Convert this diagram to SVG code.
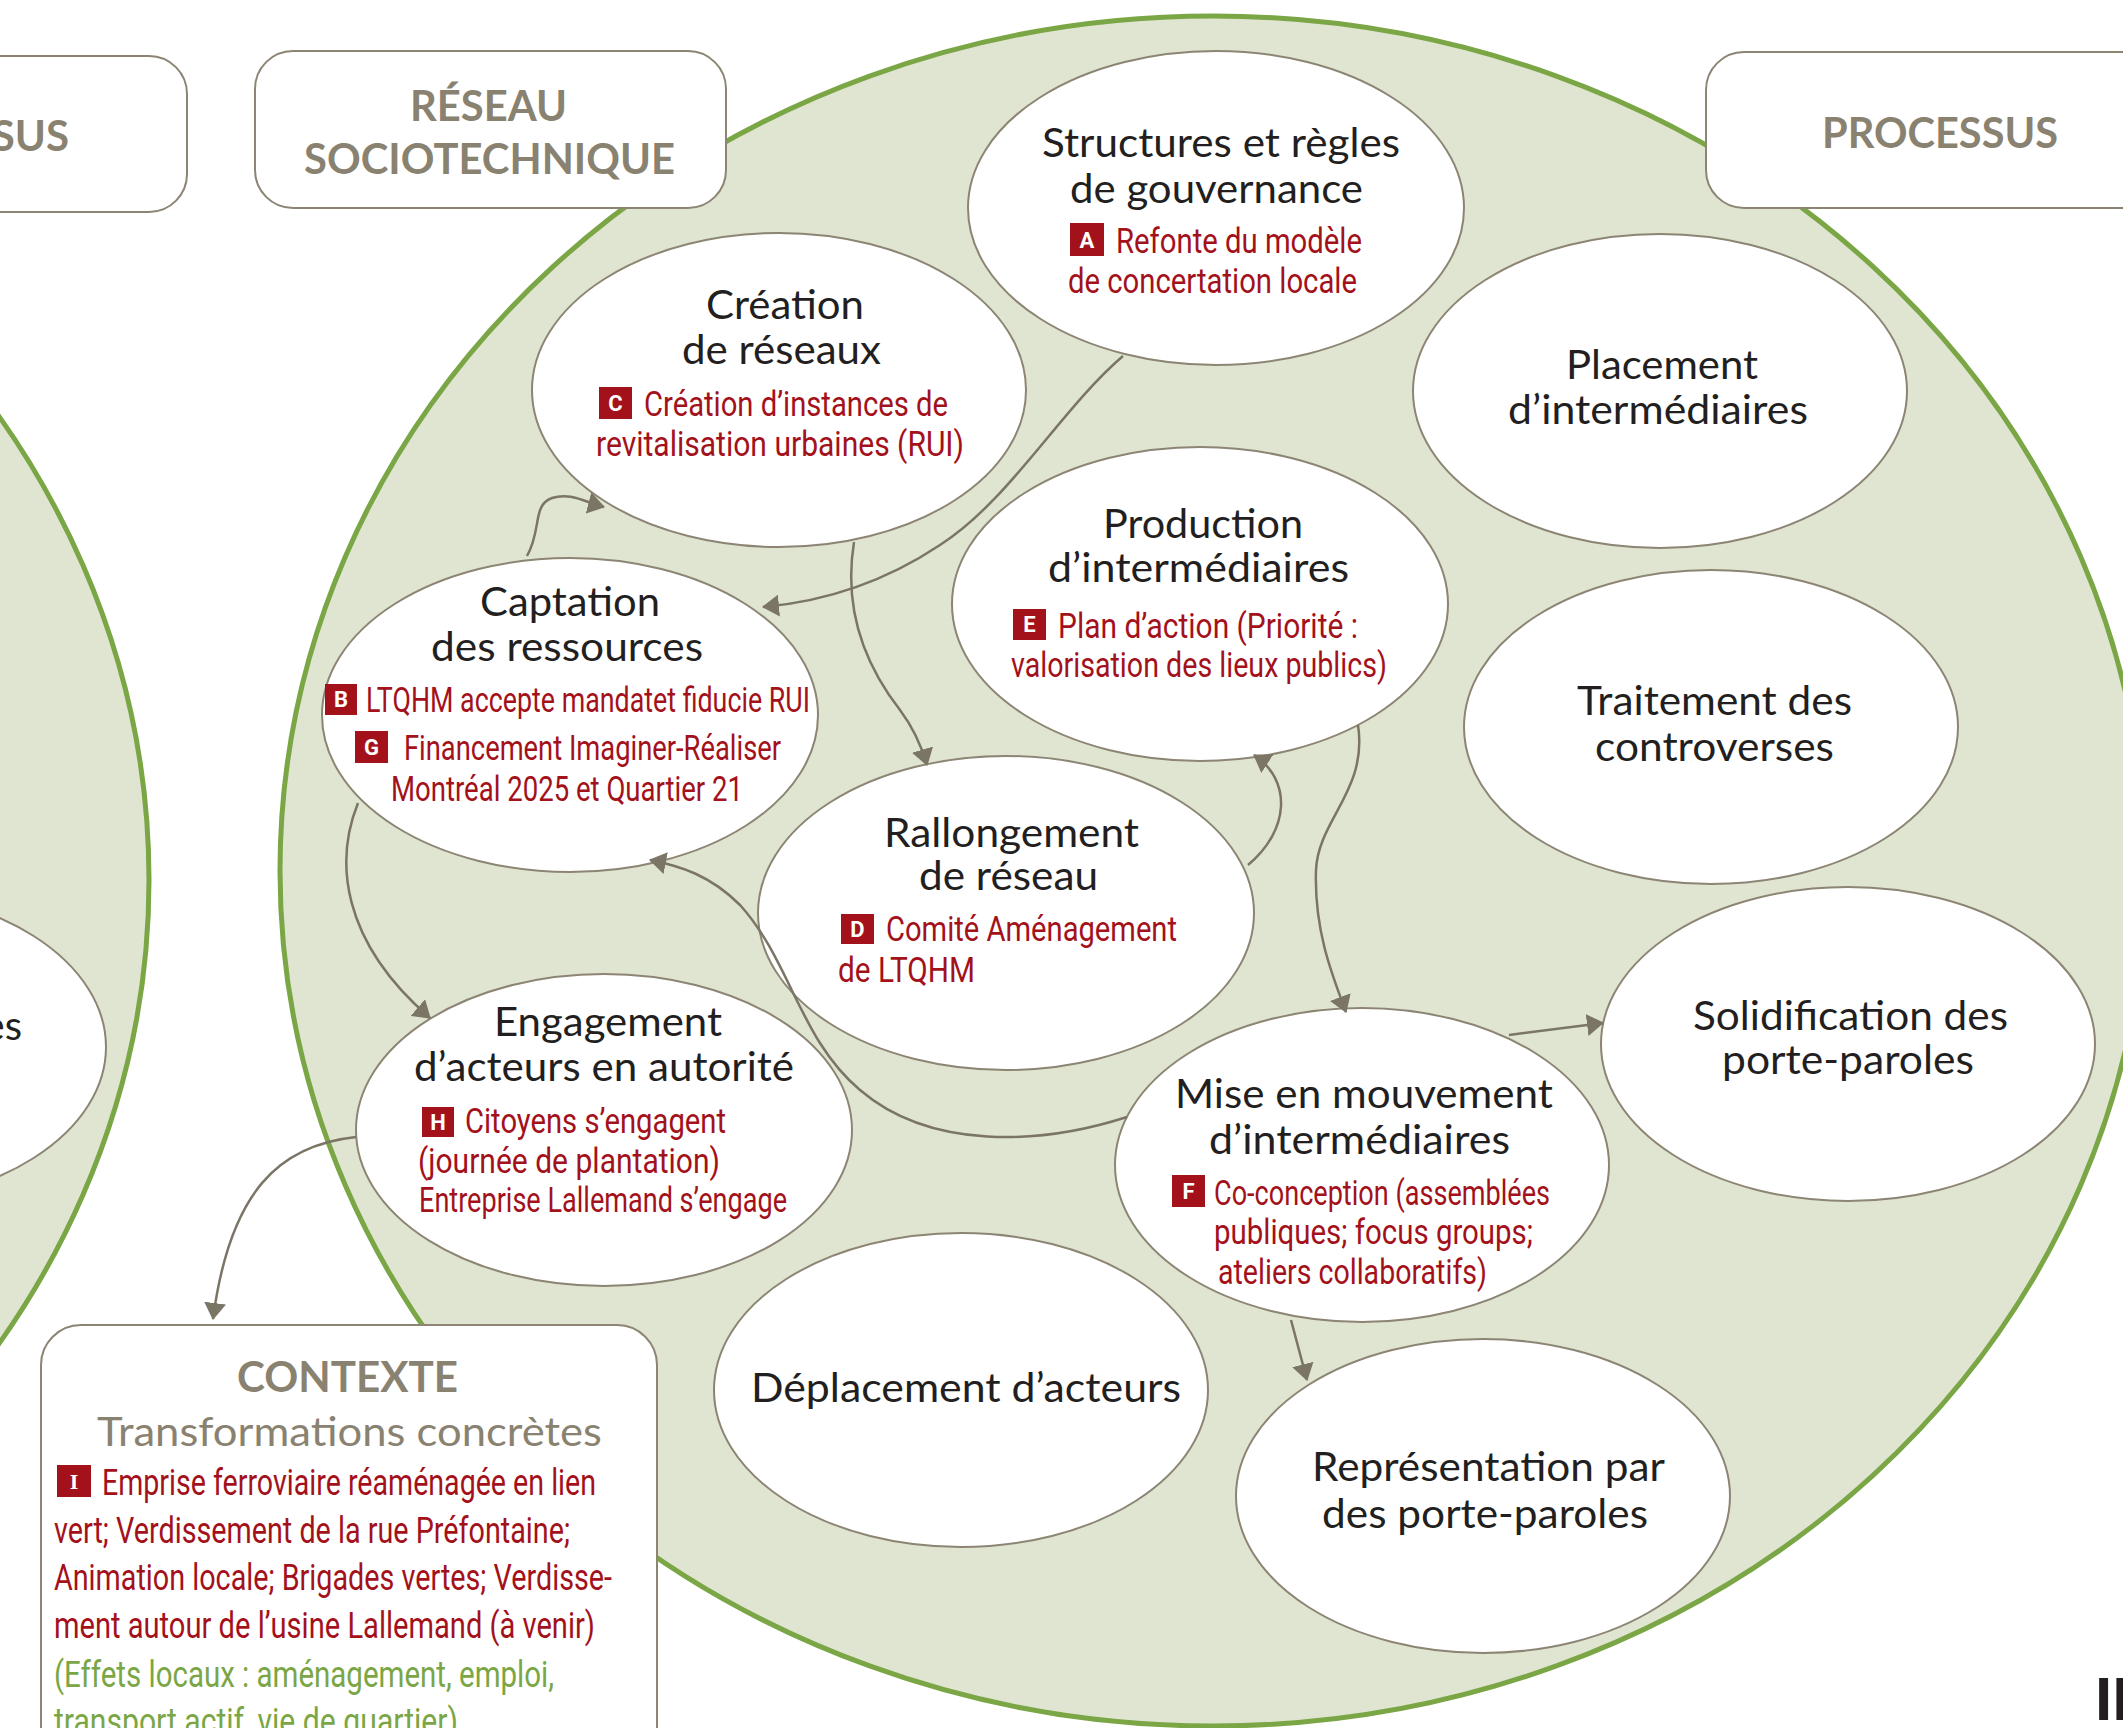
<svg xmlns="http://www.w3.org/2000/svg" width="2123" height="1728" viewBox="0 0 2123 1728">
<style>
.bg{fill:#e0e5d2;stroke:#7aa645;stroke-width:5}
.n{fill:#fff;stroke:#8c8573;stroke-width:2}
.box{fill:#fff;stroke:#8c8573;stroke-width:2}
.t{font-family:Lato,"Open Sans","Liberation Sans",sans-serif;font-size:40px;fill:#231f20}
.r{font-family:Roboto,"Liberation Sans",sans-serif;font-size:35px;fill:#a3111b}
.rc{font-family:Roboto,"Liberation Sans",sans-serif;font-size:37px;fill:#a3111b}
.g{font-family:Roboto,"Liberation Sans",sans-serif;font-size:37px;fill:#7aa645}
.bx{fill:#a3111b}
.bl{font-family:Roboto,"Liberation Sans",sans-serif;font-weight:700;font-size:22px;fill:#fff;text-anchor:middle}
.h{font-family:Lato,"Open Sans","Liberation Sans",sans-serif;font-weight:700;font-size:42px;fill:#8a8270}
.hs{font-family:Lato,"Open Sans","Liberation Sans",sans-serif;font-size:41px;fill:#8a8270}
.c{fill:none;stroke:#7a7565;stroke-width:2.5;marker-end:url(#ah)}
</style>
<defs>
<marker id="ah" viewBox="0 0 17 22" refX="16" refY="11" markerWidth="17" markerHeight="22" markerUnits="userSpaceOnUse" orient="auto">
<path d="M0,0 L17,11 L0,22 Z" fill="#7a7565"/>
</marker>
</defs>
<rect width="2123" height="1728" fill="#fff"/>
<g id="background">
<ellipse class="bg" cx="-791" cy="880" rx="940" ry="855"/>
<ellipse class="bg" cx="1213" cy="871" rx="933" ry="855"/>
</g>
<g id="node-left-partial">
<ellipse class="n" cx="-141" cy="1047" rx="247" ry="157"/>
<text class="t" x="22" y="1040" text-anchor="end">es</text>
</g>
<g id="node-structures">
<ellipse class="n" cx="1216" cy="208" rx="248" ry="157"/>
<text class="t" x="1042" y="157" textLength="358" lengthAdjust="spacingAndGlyphs">Structures et règles</text>
<text class="t" x="1070" y="203" textLength="293" lengthAdjust="spacingAndGlyphs">de gouvernance</text>
<rect class="bx" x="1070" y="223" width="34" height="33"/><text class="bl" x="1087" y="248">A</text>
<text class="r" x="1116" y="253" textLength="246" lengthAdjust="spacingAndGlyphs">Refonte du modèle</text>
<text class="r" x="1068" y="293" textLength="289" lengthAdjust="spacingAndGlyphs">de concertation locale</text>
</g>
<g id="node-creation">
<ellipse class="n" cx="779" cy="390" rx="247" ry="157"/>
<text class="t" x="706" y="319" textLength="158" lengthAdjust="spacingAndGlyphs">Création</text>
<text class="t" x="682" y="364" textLength="199" lengthAdjust="spacingAndGlyphs">de réseaux</text>
<rect class="bx" x="599" y="387" width="33" height="32"/><text class="bl" x="615.5" y="411">C</text>
<text class="r" x="644" y="416" textLength="304" lengthAdjust="spacingAndGlyphs">Création d’instances de</text>
<text class="r" x="596" y="456" textLength="368" lengthAdjust="spacingAndGlyphs">revitalisation urbaines (RUI)</text>
</g>
<g id="node-placement">
<ellipse class="n" cx="1660" cy="391" rx="247" ry="157"/>
<text class="t" x="1566" y="379" textLength="192" lengthAdjust="spacingAndGlyphs">Placement</text>
<text class="t" x="1508" y="424" textLength="300" lengthAdjust="spacingAndGlyphs">d’intermédiaires</text>
</g>
<g id="node-production">
<ellipse class="n" cx="1200" cy="604" rx="248" ry="157"/>
<text class="t" x="1103" y="538" textLength="200" lengthAdjust="spacingAndGlyphs">Production</text>
<text class="t" x="1048" y="582" textLength="301" lengthAdjust="spacingAndGlyphs">d’intermédiaires</text>
<rect class="bx" x="1013" y="609" width="33" height="31"/><text class="bl" x="1029.5" y="632">E</text>
<text class="r" x="1058" y="638" textLength="300" lengthAdjust="spacingAndGlyphs">Plan d’action (Priorité :</text>
<text class="r" x="1011" y="677" textLength="376" lengthAdjust="spacingAndGlyphs">valorisation des lieux publics)</text>
</g>
<g id="node-traitement">
<ellipse class="n" cx="1711" cy="727" rx="247" ry="157"/>
<text class="t" x="1577" y="715" textLength="275" lengthAdjust="spacingAndGlyphs">Traitement des</text>
<text class="t" x="1595" y="761" textLength="239" lengthAdjust="spacingAndGlyphs">controverses</text>
</g>
<g id="node-captation">
<ellipse class="n" cx="570" cy="715" rx="248" ry="157"/>
<text class="t" x="480" y="616" textLength="180" lengthAdjust="spacingAndGlyphs">Captation</text>
<text class="t" x="431" y="661" textLength="272" lengthAdjust="spacingAndGlyphs">des ressources</text>
<rect class="bx" x="325" y="684" width="32" height="31"/><text class="bl" x="341" y="707">B</text>
<text class="r" x="366" y="712" textLength="444" lengthAdjust="spacingAndGlyphs">LTQHM accepte mandatet fiducie RUI</text>
<rect class="bx" x="355" y="731" width="33" height="32"/><text class="bl" x="371.5" y="755">G</text>
<text class="r" x="404" y="760" textLength="377" lengthAdjust="spacingAndGlyphs">Financement Imaginer-Réaliser</text>
<text class="r" x="391" y="801" textLength="352" lengthAdjust="spacingAndGlyphs">Montréal 2025 et Quartier 21</text>
</g>
<g id="node-rallongement">
<ellipse class="n" cx="1006" cy="913" rx="248" ry="157"/>
<text class="t" x="884" y="847" textLength="255" lengthAdjust="spacingAndGlyphs">Rallongement</text>
<text class="t" x="919" y="890" textLength="179" lengthAdjust="spacingAndGlyphs">de réseau</text>
<rect class="bx" x="841" y="914" width="33" height="30"/><text class="bl" x="857.5" y="937">D</text>
<text class="r" x="886" y="941" textLength="291" lengthAdjust="spacingAndGlyphs">Comité Aménagement</text>
<text class="r" x="838" y="982" textLength="137" lengthAdjust="spacingAndGlyphs">de LTQHM</text>
</g>
<g id="node-engagement">
<ellipse class="n" cx="604" cy="1130" rx="248" ry="156"/>
<text class="t" x="494" y="1036" textLength="228" lengthAdjust="spacingAndGlyphs">Engagement</text>
<text class="t" x="414" y="1081" textLength="380" lengthAdjust="spacingAndGlyphs">d’acteurs en autorité</text>
<rect class="bx" x="422" y="1107" width="32" height="30"/><text class="bl" x="438" y="1130">H</text>
<text class="r" x="465" y="1133" textLength="261" lengthAdjust="spacingAndGlyphs">Citoyens s’engagent</text>
<text class="r" x="418" y="1173" textLength="302" lengthAdjust="spacingAndGlyphs">(journée de plantation)</text>
<text class="r" x="419" y="1212" textLength="368" lengthAdjust="spacingAndGlyphs">Entreprise Lallemand s’engage</text>
</g>
<g id="node-mise">
<ellipse class="n" cx="1362" cy="1165" rx="247" ry="157"/>
<text class="t" x="1175" y="1108" textLength="378" lengthAdjust="spacingAndGlyphs">Mise en mouvement</text>
<text class="t" x="1209" y="1154" textLength="301" lengthAdjust="spacingAndGlyphs">d’intermédiaires</text>
<rect class="bx" x="1172" y="1175" width="33" height="32"/><text class="bl" x="1188.5" y="1199">F</text>
<text class="r" x="1214" y="1205" textLength="336" lengthAdjust="spacingAndGlyphs">Co-conception (assemblées</text>
<text class="r" x="1214" y="1244" textLength="319" lengthAdjust="spacingAndGlyphs">publiques; focus groups;</text>
<text class="r" x="1218" y="1284" textLength="269" lengthAdjust="spacingAndGlyphs">ateliers collaboratifs)</text>
</g>
<g id="node-solidification">
<ellipse class="n" cx="1848" cy="1044" rx="247" ry="157"/>
<text class="t" x="1693" y="1030" textLength="315" lengthAdjust="spacingAndGlyphs">Solidification des</text>
<text class="t" x="1722" y="1074" textLength="252" lengthAdjust="spacingAndGlyphs">porte-paroles</text>
</g>
<g id="node-deplacement">
<ellipse class="n" cx="961" cy="1390" rx="247" ry="157"/>
<text class="t" x="751" y="1402" textLength="430" lengthAdjust="spacingAndGlyphs">Déplacement d’acteurs</text>
</g>
<g id="node-representation">
<ellipse class="n" cx="1483" cy="1496" rx="247" ry="157"/>
<text class="t" x="1312" y="1481" textLength="353" lengthAdjust="spacingAndGlyphs">Représentation par</text>
<text class="t" x="1322" y="1528" textLength="326" lengthAdjust="spacingAndGlyphs">des porte-paroles</text>
</g>
<g id="connectors">
<path class="c" d="M527,556 C542,530 532,505 552,498 C570,492 585,502 604,507"/>
<path class="c" d="M1123,356 C1060,410 1010,500 940,545 C880,585 820,602 763,607"/>
<path class="c" d="M854,542 C843,610 865,665 900,710 C915,730 922,748 927,765"/>
<path class="c" d="M1248,865 C1290,830 1292,780 1254,755"/>
<path class="c" d="M1358,725 C1368,790 1318,820 1316,870 C1314,930 1332,975 1346,1012"/>
<path class="c" d="M1509,1035 L1603,1023"/>
<path class="c" d="M1291,1320 L1307,1380"/>
<path class="c" d="M1127,1117 C1040,1145 930,1150 860,1090 C800,1040 790,960 740,905 C710,875 680,866 650,860"/>
<path class="c" d="M358,803 C335,860 340,940 430,1018"/>
<path class="c" d="M356,1137 C280,1145 230,1190 213,1319"/>
</g>
<g id="box-sus">
<rect class="box" x="-100" y="56" width="287" height="156" rx="38"/>
<text class="h" x="69" y="151" text-anchor="end">SUS</text>
</g>
<g id="box-reseau">
<rect class="box" x="255" y="51" width="471" height="157" rx="38"/>
<text class="h" x="410" y="121" textLength="157" lengthAdjust="spacingAndGlyphs">RÉSEAU</text>
<text class="h" x="304" y="174" textLength="371" lengthAdjust="spacingAndGlyphs">SOCIOTECHNIQUE</text>
</g>
<g id="box-processus">
<rect class="box" x="1706" y="52" width="500" height="156" rx="38"/>
<text class="h" x="1822" y="148" textLength="236" lengthAdjust="spacingAndGlyphs">PROCESSUS</text>
</g>
<g id="box-contexte">
<rect class="box" x="41" y="1325" width="616" height="460" rx="40"/>
<text class="h" x="237" y="1392" textLength="221" lengthAdjust="spacingAndGlyphs">CONTEXTE</text>
<text class="hs" x="97" y="1446" textLength="505" lengthAdjust="spacingAndGlyphs">Transformations concrètes</text>
<rect class="bx" x="57" y="1465" width="34" height="32"/><text class="bl" x="74" y="1489" style="font-family:'Liberation Serif',serif">I</text>
<text class="rc" x="102" y="1495" textLength="494" lengthAdjust="spacingAndGlyphs">Emprise ferroviaire réaménagée en lien</text>
<text class="rc" x="54" y="1543" textLength="516" lengthAdjust="spacingAndGlyphs">vert; Verdissement de la rue Préfontaine;</text>
<text class="rc" x="54" y="1590" textLength="558" lengthAdjust="spacingAndGlyphs">Animation locale; Brigades vertes; Verdisse-</text>
<text class="rc" x="54" y="1638" textLength="541" lengthAdjust="spacingAndGlyphs">ment autour de l’usine Lallemand  (à venir)</text>
<text class="g" x="54" y="1687" textLength="500" lengthAdjust="spacingAndGlyphs">(Effets locaux : aménagement, emploi,</text>
<text class="g" x="54" y="1734" textLength="404" lengthAdjust="spacingAndGlyphs">transport actif, vie de quartier)</text>
</g>
<g id="corner-mark">
<text x="2095" y="1720" style="font-family:'Liberation Sans',sans-serif;font-weight:700;font-size:62px;fill:#231f20">II</text>
</g>
</svg>
